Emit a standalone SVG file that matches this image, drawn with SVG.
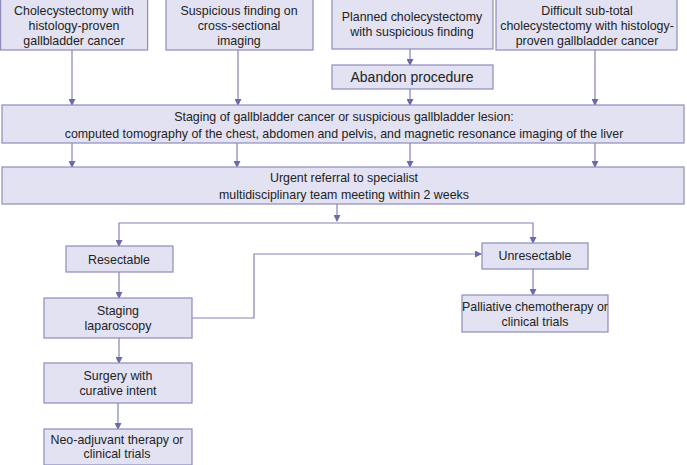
<svg xmlns="http://www.w3.org/2000/svg" width="687" height="465" viewBox="0 0 687 465">
<style>
.box{fill:#e2e2f3;stroke:#8d8dbd;stroke-width:1.2}
.t{font-family:"Liberation Sans",Arial,sans-serif;font-size:12.4px;fill:#222;text-anchor:middle}
.big{font-size:14px}
.c{fill:none;stroke:#8484b6;stroke-width:1.2}
</style>
<defs>
<marker id="ah" markerWidth="7" markerHeight="7" refX="6" refY="3.5" orient="auto" markerUnits="userSpaceOnUse">
<path d="M0,0 L7,3.5 L0,7 Z" fill="#6b6baa"/>
</marker>
</defs>
<rect width="687" height="465" fill="#fff"/>
<g id="connectors">
<path class="c" marker-end="url(#ah)" d="M72,50 V105"/>
<path class="c" marker-end="url(#ah)" d="M238,50 V105"/>
<path class="c" marker-end="url(#ah)" d="M410,49 V65"/>
<path class="c" marker-end="url(#ah)" d="M410,89 V105"/>
<path class="c" marker-end="url(#ah)" d="M595,50 V105"/>
<path class="c" marker-end="url(#ah)" d="M72,143 V167"/>
<path class="c" marker-end="url(#ah)" d="M237,143 V167"/>
<path class="c" marker-end="url(#ah)" d="M410,143 V167"/>
<path class="c" marker-end="url(#ah)" d="M595,143 V167"/>
<path class="c" marker-end="url(#ah)" d="M337,204 V221"/>
<path class="c" marker-end="url(#ah)" d="M337,223 H119 V246"/>
<path class="c" marker-end="url(#ah)" d="M337,223 H533 V243"/>
<path class="c" marker-end="url(#ah)" d="M119,272 V298"/>
<path class="c" marker-end="url(#ah)" d="M192,318 H254 V254 H481"/>
<path class="c" marker-end="url(#ah)" d="M533,269 V295"/>
<path class="c" marker-end="url(#ah)" d="M119,338 V363"/>
<path class="c" marker-end="url(#ah)" d="M118,403 V429"/>
</g>
<g id="n1"><rect class="box" x="0.6" y="-1" width="147" height="51"/>
<text class="t" x="74" y="14.5">Cholecystectomy with</text><text class="t" x="74" y="29.5">histology-proven</text><text class="t" x="74" y="44.5">gallbladder cancer</text></g>
<g id="n2"><rect class="box" x="166" y="-1" width="147" height="51"/>
<text class="t" x="239" y="14.5">Suspicious finding on</text><text class="t" x="239" y="29.5">cross-sectional</text><text class="t" x="239" y="44.5">imaging</text></g>
<g id="n3"><rect class="box" x="332" y="-1" width="161" height="50"/>
<text class="t" x="412" y="21">Planned cholecystectomy</text><text class="t" x="412" y="36">with suspicious finding</text></g>
<g id="n4"><rect class="box" x="496" y="-1" width="181" height="51"/>
<text class="t" x="587" y="14.5">Difficult sub-total</text><text class="t" x="587" y="29.5">cholecystectomy with histology-</text><text class="t" x="587" y="44.5">proven gallbladder cancer</text></g>
<g id="n5"><rect class="box" x="332" y="65" width="161" height="24"/>
<text class="t big" x="412" y="82">Abandon procedure</text></g>
<g id="n6"><rect class="box" x="2" y="105" width="682" height="38"/>
<text class="t" x="344" y="121">Staging of gallbladder cancer or suspicious gallbladder lesion:</text><text class="t" x="344" y="138">computed tomography of the chest, abdomen and pelvis, and magnetic resonance imaging of the liver</text></g>
<g id="n7"><rect class="box" x="2" y="167" width="682" height="37"/>
<text class="t" x="344" y="182">Urgent referral to specialist</text><text class="t" x="344" y="199">multidisciplinary team meeting within 2 weeks</text></g>
<g id="n8"><rect class="box" x="66" y="246" width="107" height="26"/>
<text class="t" x="119" y="264">Resectable</text></g>
<g id="n9"><rect class="box" x="44" y="298" width="148" height="40"/>
<text class="t" x="118" y="315">Staging</text><text class="t" x="118" y="330">laparoscopy</text></g>
<g id="n10"><rect class="box" x="44" y="363" width="148" height="40"/>
<text class="t" x="118" y="380">Surgery with</text><text class="t" x="118" y="395">curative intent</text></g>
<g id="n11"><rect class="box" x="44" y="429" width="148" height="36"/>
<text class="t" x="117" y="444">Neo-adjuvant therapy or</text><text class="t" x="117" y="458">clinical trials</text></g>
<g id="n12"><rect class="box" x="482" y="243" width="106" height="26"/>
<text class="t" x="535" y="260">Unresectable</text></g>
<g id="n13"><rect class="box" x="462" y="295" width="146" height="37"/>
<text class="t" x="535" y="311">Palliative chemotherapy or</text><text class="t" x="535" y="326">clinical trials</text></g>
</svg>
